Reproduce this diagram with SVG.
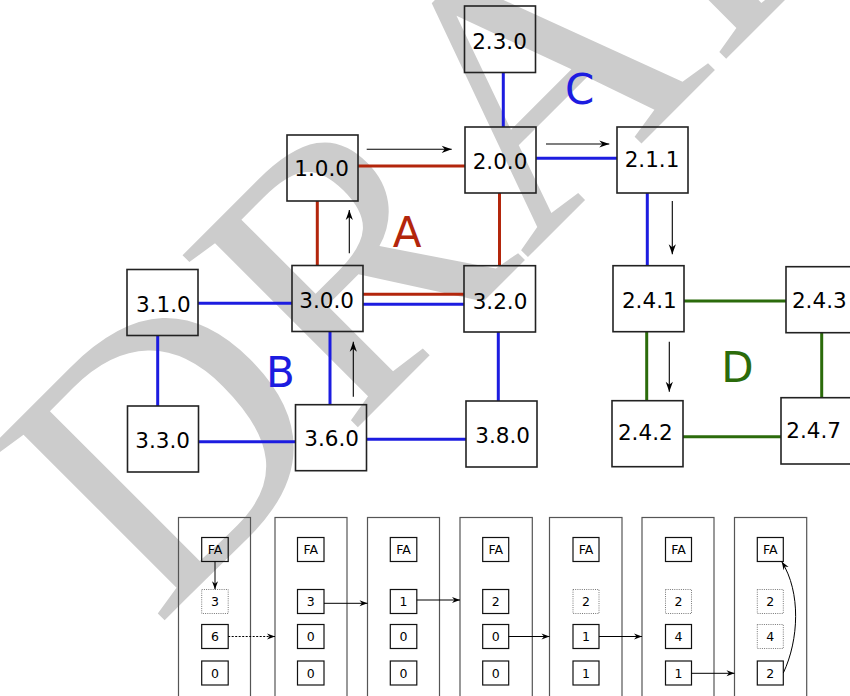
<svg xmlns="http://www.w3.org/2000/svg" width="850" height="696" viewBox="0 0 850 696">
<defs>
<marker id="ah" markerUnits="userSpaceOnUse" markerWidth="12" markerHeight="10" viewBox="-11 -5 12 10" refX="0" refY="0" orient="auto">
<path d="M0,0 L-10,-3.6 L-7,0 L-10,3.6 Z" fill="#000"/>
</marker>
<marker id="ahs" markerUnits="userSpaceOnUse" markerWidth="10" markerHeight="8" viewBox="-9 -4 10 8" refX="0" refY="0" orient="auto">
<path d="M0,0 L-8,-3 L-5.5,0 L-8,3 Z" fill="#000"/>
</marker>
<style>
.wm{font-family:"Liberation Serif","Times New Roman",serif;fill:#cccccc}
.box rect{fill:none;stroke:#222;stroke-width:1.6}
.box text{font-family:"DejaVu Sans",sans-serif;font-size:21.5px;text-anchor:middle;fill:#000}
.red{stroke:#b3260c;stroke-width:3;fill:none}
.blue{stroke:#1c1ce0;stroke-width:3;fill:none}
.green{stroke:#2b6b0b;stroke-width:3;fill:none}
.arr{stroke:#000;stroke-width:1.1;fill:none;marker-end:url(#ah)}
.lbl{font-family:"DejaVu Sans",sans-serif;font-size:42px;text-anchor:middle}
.panel{fill:none;stroke:#555;stroke-width:1.2}
.sb{fill:none;stroke:#111;stroke-width:1.2}
.sd{fill:none;stroke:#777;stroke-width:1;stroke-dasharray:1,1.2}
.st{font-family:"DejaVu Sans",sans-serif;font-size:12.5px;text-anchor:middle;fill:#000}
.sa{stroke:#000;stroke-width:1;fill:none;marker-end:url(#ahs)}
</style>
</defs>
<rect width="850" height="696" fill="#fff"/>
<text class="wm" x="157" y="628" font-size="375" transform="rotate(-45 157 628)">DRAFT</text>

<g id="connectors">
<line class="red" x1="358" y1="166" x2="465" y2="166"/>
<line class="red" x1="317.3" y1="201" x2="317.3" y2="265.5"/>
<line class="red" x1="499.5" y1="193" x2="499.5" y2="265.7"/>
<line class="red" x1="363" y1="294.3" x2="464" y2="294.3"/>
<line class="blue" x1="503.3" y1="72.5" x2="503.3" y2="127"/>
<line class="blue" x1="536" y1="158.3" x2="617" y2="158.3"/>
<line class="blue" x1="647.3" y1="193" x2="647.3" y2="265.7"/>
<line class="blue" x1="363" y1="304.3" x2="464" y2="304.3"/>
<line class="blue" x1="198" y1="303.3" x2="292" y2="303.3"/>
<line class="blue" x1="157.7" y1="335.5" x2="157.7" y2="406"/>
<line class="blue" x1="330" y1="331.5" x2="330" y2="404.7"/>
<line class="blue" x1="198.5" y1="441.7" x2="295.5" y2="441.7"/>
<line class="blue" x1="366.5" y1="439.3" x2="466" y2="439.3"/>
<line class="blue" x1="498.3" y1="332" x2="498.3" y2="401"/>
<line class="green" x1="684" y1="301" x2="786" y2="301"/>
<line class="green" x1="646.7" y1="331.7" x2="646.7" y2="400.7"/>
<line class="green" x1="821.7" y1="332.7" x2="821.7" y2="397.7"/>
<line class="green" x1="683" y1="436.7" x2="781" y2="436.7"/>
<line class="arr" x1="366.7" y1="149.3" x2="451.7" y2="149.3"/>
<line class="arr" x1="546" y1="144" x2="609.3" y2="144"/>
<line class="arr" x1="349.3" y1="253.3" x2="349.3" y2="210"/>
<line class="arr" x1="353.3" y1="396.7" x2="353.3" y2="341.7"/>
<line class="arr" x1="672.3" y1="201" x2="672.3" y2="254.3"/>
<line class="arr" x1="669.3" y1="341.7" x2="669.3" y2="391.7"/>
</g>

<g id="n100" class="box"><rect x="287" y="135" width="71" height="66"/><text x="321.7" y="176">1.0.0</text></g>
<g id="n200" class="box"><rect x="465" y="127" width="71" height="66"/><text x="500" y="169.3">2.0.0</text></g>
<g id="n230" class="box"><rect x="464.5" y="6" width="71" height="66.5"/><text x="499.5" y="49.3">2.3.0</text></g>
<g id="n211" class="box"><rect x="617" y="127" width="71" height="66"/><text x="652" y="166.7">2.1.1</text></g>
<g id="n300" class="box"><rect x="292" y="265.5" width="71" height="66"/><text x="326.7" y="308.3">3.0.0</text></g>
<g id="n310" class="box"><rect x="127" y="269.5" width="71" height="66"/><text x="163.3" y="311.7">3.1.0</text></g>
<g id="n320" class="box"><rect x="464" y="265.7" width="71.5" height="66.3"/><text x="500" y="309.3">3.2.0</text></g>
<g id="n330" class="box"><rect x="127.5" y="406" width="71" height="66"/><text x="162.7" y="447.7">3.3.0</text></g>
<g id="n360" class="box"><rect x="295.5" y="404.7" width="71" height="66"/><text x="331.7" y="445.7">3.6.0</text></g>
<g id="n380" class="box"><rect x="466" y="401" width="71" height="66"/><text x="502.7" y="442.7">3.8.0</text></g>
<g id="n241" class="box"><rect x="613" y="265.7" width="71" height="66"/><text x="649.3" y="308.3">2.4.1</text></g>
<g id="n243" class="box"><rect x="786" y="266.7" width="71" height="66"/><text x="819.3" y="307.7">2.4.3</text></g>
<g id="n242" class="box"><rect x="612" y="400.7" width="71" height="66"/><text x="645.3" y="440">2.4.2</text></g>
<g id="n247" class="box"><rect x="781" y="397.7" width="71" height="66.3"/><text x="813.7" y="438.3">2.4.7</text></g>

<g id="labels">
<text class="lbl" x="407.2" y="246.7" fill="#b3260c">A</text>
<text class="lbl" x="280.5" y="386.7" fill="#1c1ce0">B</text>
<text class="lbl" x="579.7" y="104" fill="#1c1ce0">C</text>
<text class="lbl" x="737.5" y="381.7" fill="#2b6b0b">D</text>
</g>

<g id="p1"><rect class="panel" x="178.5" y="517.5" width="72" height="185"/>
<rect class="sb" x="201.7" y="537.5" width="26.5" height="24"/><text class="st" x="215" y="554">FA</text>
<rect class="sd" x="201.7" y="589.5" width="26.5" height="24"/><text class="st" x="215" y="606">3</text>
<rect class="sb" x="201.7" y="624.5" width="26.5" height="24"/><text class="st" x="215" y="641">6</text>
<rect class="sb" x="201.7" y="661" width="26.5" height="24"/><text class="st" x="215" y="677.5">0</text></g>
<g id="p2"><rect class="panel" x="275" y="517.5" width="72" height="185"/>
<rect class="sb" x="297.5" y="537.5" width="26.5" height="24"/><text class="st" x="310.7" y="554">FA</text>
<rect class="sb" x="297.5" y="589.5" width="26.5" height="24"/><text class="st" x="310.7" y="606">3</text>
<rect class="sb" x="297.5" y="624.5" width="26.5" height="24"/><text class="st" x="310.7" y="641">0</text>
<rect class="sb" x="297.5" y="661" width="26.5" height="24"/><text class="st" x="310.7" y="677.5">0</text></g>
<g id="p3"><rect class="panel" x="367.5" y="517.5" width="72" height="185"/>
<rect class="sb" x="390.3" y="537.5" width="26.5" height="24"/><text class="st" x="403.5" y="554">FA</text>
<rect class="sb" x="390.3" y="589.5" width="26.5" height="24"/><text class="st" x="403.5" y="606">1</text>
<rect class="sb" x="390.3" y="624.5" width="26.5" height="24"/><text class="st" x="403.5" y="641">0</text>
<rect class="sb" x="390.3" y="661" width="26.5" height="24"/><text class="st" x="403.5" y="677.5">0</text></g>
<g id="p4"><rect class="panel" x="460" y="517.5" width="72.3" height="185"/>
<rect class="sb" x="482.7" y="537.5" width="26" height="24"/><text class="st" x="495.7" y="554">FA</text>
<rect class="sb" x="482.7" y="589.5" width="26" height="24"/><text class="st" x="495.7" y="606">2</text>
<rect class="sb" x="482.7" y="624.5" width="26" height="24"/><text class="st" x="495.7" y="641">0</text>
<rect class="sb" x="482.7" y="661" width="26" height="24"/><text class="st" x="495.7" y="677.5">0</text></g>
<g id="p5"><rect class="panel" x="549.5" y="517.5" width="72.5" height="185"/>
<rect class="sb" x="573" y="537.5" width="26" height="24"/><text class="st" x="586" y="554">FA</text>
<rect class="sd" x="573" y="589.5" width="26" height="24"/><text class="st" x="586" y="606">2</text>
<rect class="sb" x="573" y="624.5" width="26" height="24"/><text class="st" x="586" y="641">1</text>
<rect class="sb" x="573" y="661" width="26" height="24"/><text class="st" x="586" y="677.5">1</text></g>
<g id="p6"><rect class="panel" x="642" y="517.5" width="72" height="185"/>
<rect class="sb" x="665.5" y="537.5" width="26" height="24"/><text class="st" x="678.5" y="554">FA</text>
<rect class="sd" x="665.5" y="589.5" width="26" height="24"/><text class="st" x="678.5" y="606">2</text>
<rect class="sb" x="665.5" y="624.5" width="26" height="24"/><text class="st" x="678.5" y="641">4</text>
<rect class="sb" x="665.5" y="661" width="26" height="24"/><text class="st" x="678.5" y="677.5">1</text></g>
<g id="p7"><rect class="panel" x="734.5" y="517.5" width="72.2" height="185"/>
<rect class="sb" x="757.3" y="537.5" width="26" height="24"/><text class="st" x="770.3" y="554">FA</text>
<rect class="sd" x="757.3" y="589.5" width="26" height="24"/><text class="st" x="770.3" y="606">2</text>
<rect class="sd" x="757.3" y="624.5" width="26" height="24"/><text class="st" x="770.3" y="641">4</text>
<rect class="sb" x="757.3" y="661" width="26" height="24"/><text class="st" x="770.3" y="677.5">2</text></g>

<g id="panel-connectors">
<line class="sa" x1="215" y1="561.5" x2="215" y2="589.3"/>
<line class="sa" x1="228.2" y1="636.5" x2="275" y2="636.5" stroke-dasharray="2,1.5" stroke="#333"/>
<line class="sa" x1="324" y1="603.3" x2="367.5" y2="603.3"/>
<line class="sa" x1="416.8" y1="600" x2="460" y2="600"/>
<line class="sa" x1="508.7" y1="636.5" x2="549.5" y2="636.5"/>
<line class="sa" x1="599" y1="636.5" x2="642" y2="636.5"/>
<line class="sa" x1="691.5" y1="673.3" x2="734.5" y2="673.3"/>
<path class="sa" d="M783.3,673 C799,640 801,592 781.8,561.8"/>
</g>
</svg>
